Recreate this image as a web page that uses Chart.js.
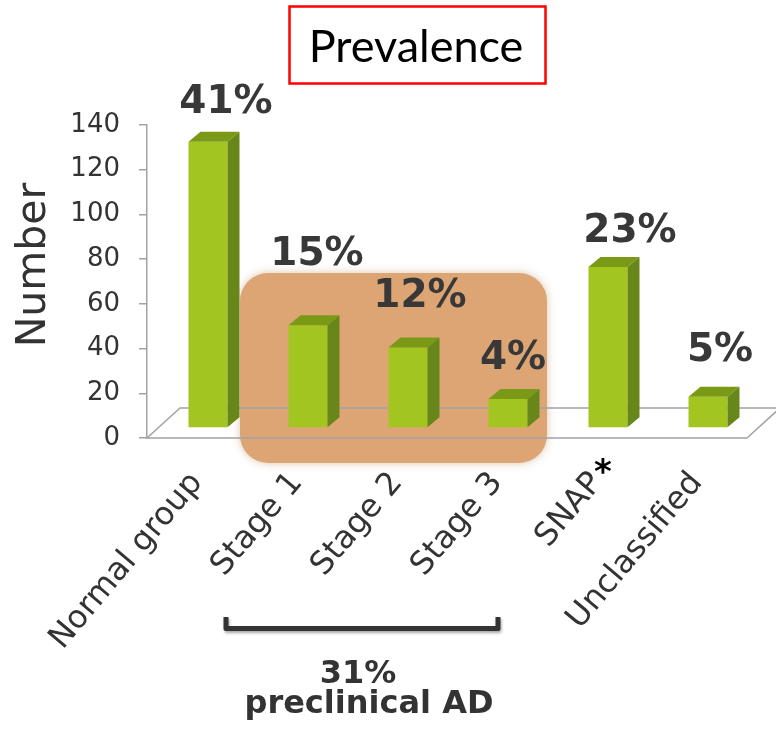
<!DOCTYPE html>
<html>
<head>
<meta charset="utf-8">
<style>
  html, body { margin: 0; padding: 0; background: #ffffff; }
  #wrap { width: 776px; height: 729px; }
  canvas { display: block; }
</style>
<script src="https://cdn.jsdelivr.net/npm/chart.js@4.4.1/dist/chart.umd.min.js"></script>
</head>
<body>
<div id="wrap"><canvas id="chart" width="776" height="729"></canvas></div>
<script>
// Participants per classification group
const categories = ['Normal group', 'Stage 1', 'Stage 2', 'Stage 3', 'SNAP', 'Unclassified'];
const counts = [128, 46, 36, 13, 72, 14];
const yTicks = [0, 20, 40, 60, 80, 100, 120, 140];
const preclinicalGroups = ['Stage 1', 'Stage 2', 'Stage 3'];
const starredGroup = 'SNAP';

// Shares shown above the bars and under the bracket
const total = counts.reduce((a, b) => a + b, 0);
const shares = counts.map(c => Math.round(c / total * 100));
const preclinicalShare = Math.round(
  preclinicalGroups.reduce((s, name) => s + counts[categories.indexOf(name)], 0) / total * 100
);

// Oblique projection of the pseudo-3D scene
const BAR_SHIFT = { x: 11, y: -10 };   // bars stand a third of the way into the floor
const BAR_DEPTH = { x: 12, y: -10 };
const FLOOR_DEPTH = { x: 33, y: -30 };

const TEXT = '#333333';
const SANS = '"DejaVu Sans", Verdana, sans-serif';

const scene3d = {
  id: 'scene3d',
  beforeDatasetsDraw(chart, args, opts) {
    const { ctx, chartArea: a, scales: { x } } = chart;
    // shaded panel behind the preclinical stages
    const i0 = categories.indexOf(preclinicalGroups[0]);
    const i1 = categories.indexOf(preclinicalGroups[preclinicalGroups.length - 1]);
    const left = x.getPixelForValue(i0) - 57;
    const right = x.getPixelForValue(i1) + 50;
    const top = 273, bottom = 463;
    ctx.save();
    ctx.shadowColor = 'rgba(150, 90, 30, 0.35)';
    ctx.shadowBlur = 8;
    ctx.fillStyle = '#dda574';
    ctx.beginPath();
    ctx.roundRect(left, top, right - left, bottom - top, 28);
    ctx.fill();
    ctx.restore();

    // floor outline
    ctx.save();
    ctx.strokeStyle = '#a3a3a3';
    ctx.lineWidth = 1.5;
    ctx.beginPath();
    ctx.moveTo(a.left, a.bottom);
    ctx.lineTo(a.right, a.bottom);
    ctx.lineTo(a.right + FLOOR_DEPTH.x, a.bottom + FLOOR_DEPTH.y);
    ctx.lineTo(a.left + FLOOR_DEPTH.x, a.bottom + FLOOR_DEPTH.y);
    ctx.closePath();
    ctx.stroke();
    ctx.restore();
  },
  beforeDatasetDraw(chart) {
    chart.ctx.save();
    chart.ctx.translate(BAR_SHIFT.x, BAR_SHIFT.y);
  },
  afterDatasetDraw(chart, args) {
    const ctx = chart.ctx;
    args.meta.data.forEach(bar => {
      const { x, y, base, width } = bar.getProps(['x', 'y', 'base', 'width'], true);
      const l = x - width / 2, r = x + width / 2;
      // top face
      ctx.fillStyle = '#7a9a17';
      ctx.beginPath();
      ctx.moveTo(l, y);
      ctx.lineTo(l + BAR_DEPTH.x, y + BAR_DEPTH.y);
      ctx.lineTo(r + BAR_DEPTH.x, y + BAR_DEPTH.y);
      ctx.lineTo(r, y);
      ctx.closePath();
      ctx.fill();
      // side face
      ctx.fillStyle = '#67871a';
      ctx.beginPath();
      ctx.moveTo(r, y);
      ctx.lineTo(r + BAR_DEPTH.x, y + BAR_DEPTH.y);
      ctx.lineTo(r + BAR_DEPTH.x, base + BAR_DEPTH.y);
      ctx.lineTo(r, base);
      ctx.closePath();
      ctx.fill();
    });
    ctx.restore();
  },
  afterDatasetsDraw(chart, args, opts) {
    const ctx = chart.ctx;
    const meta = chart.getDatasetMeta(0);
    ctx.save();
    ctx.fillStyle = '#383838';
    ctx.font = 'bold 39px ' + SANS;
    ctx.textAlign = 'center';
    ctx.textBaseline = 'alphabetic';
    meta.data.forEach((bar, i) => {
      const off = opts.labelOffsets[i];
      ctx.fillText(shares[i] + '%', bar.x + off[0], bar.y + BAR_SHIFT.y + off[1]);
    });
    ctx.restore();
  },
  afterDraw(chart) {
    const { ctx, scales: { x } } = chart;

    // title box
    ctx.save();
    ctx.strokeStyle = '#ff0000';
    ctx.lineWidth = 2.5;
    ctx.strokeRect(289.5, 6.5, 256, 77);
    ctx.fillStyle = '#000000';
    ctx.font = '45px Lato, "Open Sans", sans-serif';
    ctx.textAlign = 'center';
    ctx.textBaseline = 'alphabetic';
    ctx.fillText('Prevalence', 416, 62);
    ctx.restore();

    // vertical axis title
    ctx.save();
    ctx.translate(45, 265);
    ctx.rotate(-Math.PI / 2);
    ctx.fillStyle = TEXT;
    ctx.font = '41px ' + SANS;
    ctx.textAlign = 'center';
    ctx.textBaseline = 'alphabetic';
    ctx.fillText('Number', 0, 0);
    ctx.restore();

    // footnote marker on the SNAP label
    ctx.save();
    ctx.fillStyle = '#000000';
    ctx.font = 'bold 34px ' + SANS;
    ctx.textAlign = 'center';
    ctx.textBaseline = 'alphabetic';
    ctx.fillText('*', x.getPixelForValue(categories.indexOf(starredGroup)) + 6, 483);
    ctx.restore();

    // bracket under the preclinical stages
    const i0 = categories.indexOf(preclinicalGroups[0]);
    const i1 = categories.indexOf(preclinicalGroups[preclinicalGroups.length - 1]);
    const bl = x.getPixelForValue(i0) - 71;
    const br = x.getPixelForValue(i1) + 1;
    ctx.save();
    ctx.strokeStyle = '#333333';
    ctx.lineWidth = 5;
    ctx.lineJoin = 'round';
    ctx.shadowColor = 'rgba(0,0,0,0.35)';
    ctx.shadowBlur = 3;
    ctx.shadowOffsetX = 1;
    ctx.shadowOffsetY = 2;
    ctx.beginPath();
    ctx.moveTo(bl, 617);
    ctx.lineTo(bl, 628.5);
    ctx.lineTo(br, 628.5);
    ctx.lineTo(br, 617);
    ctx.stroke();
    ctx.restore();

    ctx.save();
    ctx.fillStyle = TEXT;
    ctx.font = 'bold 32px ' + SANS;
    ctx.textAlign = 'center';
    ctx.textBaseline = 'alphabetic';
    ctx.fillText(preclinicalShare + '%', 358, 683);
    ctx.fillText('preclinical AD', 369, 713);
    ctx.restore();
  }
};

new Chart(document.getElementById('chart'), {
  type: 'bar',
  data: {
    labels: categories,
    datasets: [{
      data: counts,
      backgroundColor: '#a3c51f',
      borderWidth: 0,
      categoryPercentage: 1,
      barPercentage: 0.39,
      clip: false
    }]
  },
  options: {
    responsive: false,
    animation: false,
    devicePixelRatio: 1,
    layout: { padding: { left: 0, right: 29, top: 125, bottom: 0 } },
    plugins: {
      legend: { display: false },
      tooltip: { enabled: false },
      scene3d: {
        labelOffsets: [[29, -29], [20, -60], [23, -41], [16, -30], [33, -25], [23, -36]]
      }
    },
    scales: {
      x: {
        offset: true,
        grid: { display: false, drawTicks: false },
        border: { display: false },
        ticks: {
          minRotation: 50,
          maxRotation: 50,
          padding: 27,
          color: TEXT,
          font: { family: SANS, size: 32 }
        },
        afterFit(scale) { scale.height = 291; }
      },
      y: {
        min: yTicks[0],
        max: yTicks[yTicks.length - 1],
        afterBuildTicks(scale) { scale.ticks = yTicks.map(v => ({ value: v })); },
        grid: { drawOnChartArea: false, drawTicks: true, tickLength: 8, color: '#a3a3a3', lineWidth: 1.5 },
        border: { display: true, color: '#a3a3a3', width: 1.5 },
        ticks: {
          padding: 19,
          color: TEXT,
          font: { family: SANS, size: 26 }
        },
        afterFit(scale) { scale.width = 147; }
      }
    }
  },
  plugins: [scene3d]
});
</script>
</body>
</html>
